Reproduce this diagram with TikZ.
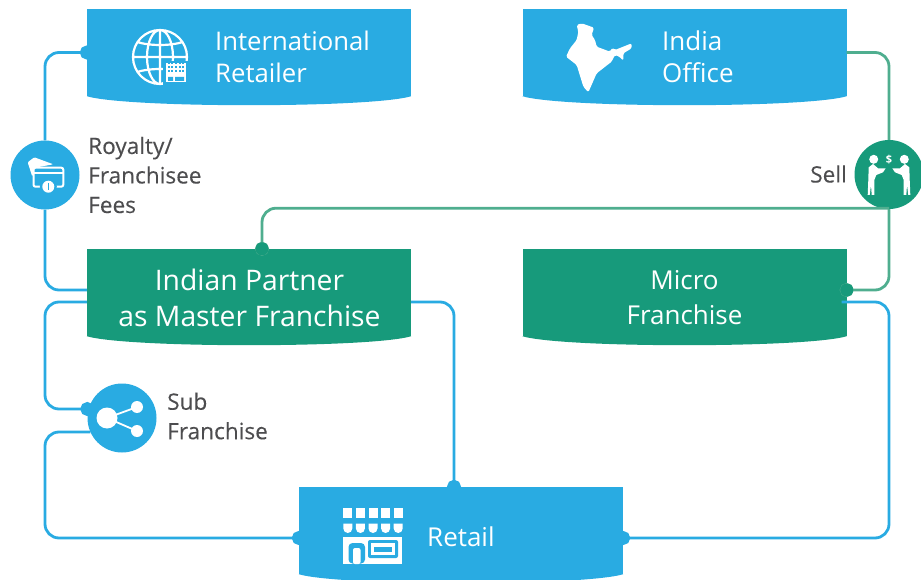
\documentclass[tikz,border=0pt]{standalone}
\usepackage{fontspec}
\setmainfont{Open Sans}
\newfontfamily\sidefont[FakeBold=0.2]{Open Sans}
\usetikzlibrary{arrows.meta}
\definecolor{skyblue}{HTML}{29ABE2}
\definecolor{teal}{HTML}{179A7B}
\definecolor{tealline}{HTML}{4FAE8F}
\definecolor{labelgray}{HTML}{4D4D4F}
\begin{document}
\begin{tikzpicture}[
  x=1pt, y=-1pt,
  box/.style={rectangle, minimum width=324pt, minimum height=87pt, inner sep=0pt},
  disc/.style={circle, minimum size=69pt, inner sep=0pt},
  boxtext/.style={text=white, inner sep=0pt, align=#1},
  boxtext/.default=center,
  sidetext/.style={text=labelgray, inner sep=0pt, align=#1, font=\sidefont\fontsize{22.6}{29.5}\selectfont},
  sidetext/.default=left,
  bluelink/.style={draw=skyblue, line width=2.8pt, rounded corners=14pt, shorten >=-7pt},
  greenlink/.style={draw=tealline, line width=2.8pt, rounded corners=14pt, shorten >=-7pt},
  dot/.style={-{Circle[length=14pt]}}
]
\useasboundingbox (0,0) rectangle (921,580);

\node[box, fill=skyblue] (intl) at (249,52.5) {};
\node[box, fill=skyblue, right of=intl, node distance=435.5pt] (india) {};
\node[box, fill=teal, below of=intl, node distance=240pt] (partner) {};
\node[box, fill=teal, right of=partner, node distance=435.5pt] (micro) {};
\node[box, fill=skyblue, below of=partner, node distance=238pt, xshift=212pt] (retail) {};

\foreach \nm/\col in {intl/skyblue, india/skyblue, partner/teal, micro/teal, retail/skyblue}
  \fill[\col] (\nm.south west) .. controls ([shift={(40pt,-12pt)}]\nm.south west) and ([shift={(-40pt,-12pt)}]\nm.south east) .. (\nm.south east) -- cycle;

\node[disc, fill=skyblue, below of=intl, node distance=122.5pt, xshift=-204pt] (royalty) {};
\node[disc, fill=teal, below of=india, node distance=122pt, xshift=204.5pt] (sell) {};
\node[disc, fill=skyblue, below of=partner, node distance=125.5pt, xshift=-127pt] (sub) {};

\coordinate (partnerA) at ([yshift=2.5pt]partner.west);
\coordinate (partnerB) at ([yshift=-9.5pt]partner.west);
\coordinate (partnerC) at ([yshift=-9.5pt]partner.east);
\coordinate (partnerTop) at ([xshift=13pt]partner.north);
\coordinate (microA) at ([yshift=2.5pt]micro.east);
\coordinate (microB) at ([xshift=-5pt,yshift=-9.5pt]micro.east);
\coordinate (subA) at ([yshift=9pt]sub.west);
\coordinate (subB) at ([xshift=3pt,yshift=-14pt]sub.west);
\coordinate (retailW) at ([yshift=-7.5pt]retail.west);
\coordinate (retailE) at ([yshift=-7.5pt]retail.east);
\coordinate (retailTop) at ([xshift=-7pt]retail.north);
\coordinate (sellFoot) at ([yshift=1pt]sell.south);

\draw[bluelink, shorten >=0pt, {Circle[length=14pt]}-, shorten <=-7pt] (intl.west) -| (royalty.north);
\draw[bluelink, shorten >=0pt] (royalty.south) |- (partnerA);
\draw[bluelink, dot] (partnerB) -| (royalty.south |- subA) -- (subA);
\draw[bluelink, dot] (subB) -| (royalty.south |- retailW) -- (retailW);
\draw[bluelink, dot] (partnerC) -| (retailTop);
\draw[bluelink, dot] (microB) -| (sell.south |- retailE) -- (retailE);
\draw[greenlink, shorten >=0pt] (india.east) -| (sell.north);
\draw[greenlink, dot] (sell.south) |- (microA);
\draw[greenlink, dot] (sellFoot) -| (partnerTop);

% dots sit on the box edge in the box colour
\fill[teal] (microA) circle (6.5pt) (partnerTop) circle (6.5pt);

\node[boxtext=left, anchor=west, font=\fontsize{25.7}{32}\selectfont] (intlText) at (215,57) {International\\Retailer};
\node[boxtext=left, anchor=west, font=\fontsize{26}{32}\selectfont] (indiaText) at (662,57) {India\\Office};
\node[boxtext, font=\fontsize{28.3}{36.5}\selectfont] (partnerText) at (249.5,298) {Indian Partner\\as Master Franchise};
\node[boxtext, font=\fontsize{26}{35}\selectfont] (microText) at (684.5,298) {Micro\\Franchise};
\node[boxtext, anchor=west, font=\fontsize{26}{32}\selectfont] (retailText) at (427,537) {Retail};
\node[sidetext, anchor=west] (royaltyText) at (88,175) {Royalty/\\Franchisee\\Fees};
\node[sidetext, anchor=east] (sellText) at (847,174) {Sell};
\node[sidetext, anchor=west] (subText) at (167,416) {Sub\\Franchise};

% globe
\draw[white, line width=2.2pt] (160,57) circle (27pt) (160,57) ellipse (13pt and 27pt) (160,30) -- (160,84) (133,57) -- (187,57)
  (137,42) .. controls (150,46) and (170,46) .. (183,42) (137,72) .. controls (150,68) and (170,68) .. (183,72);
\fill[skyblue] (163,61) rectangle (190,86);
\fill[white] (166,63) rectangle (186,82);
\foreach \i in {0,...,4} \foreach \j in {0,1,2}
  \fill[skyblue] (167.5+3.7*\i,64.5+3.7*\j) rectangle ++(2pt,2pt);
\fill[skyblue] (168,77) rectangle (173,81) (175,77) rectangle (184,81);

% india
\begin{scope}[shift={(560,15)}, x=0.3333pt, y=-0.3333pt]
\fill[white, rounded corners=1.5pt] (50,30) -- (65,25) -- (102,38) -- (95,60) -- (105,75) -- (110,95) -- (150,110) -- (157,98) -- (165,105) -- (215,85) -- (215,100) -- (190,115) -- (190,137) -- (178,125) -- (165,120) -- (155,140)
  -- (110,175) -- (85,232) -- (70,215) -- (50,150) -- (18,125) -- (30,100) -- (50,75) -- (55,50) -- cycle;
\end{scope}

% cards
\fill[white, rounded corners=1pt] (27.7,162.3) -- (34.3,157.3) -- (53.3,164.3) -- (35,167.7) -- (32.3,176.7) -- cycle;
\draw[white, fill=skyblue, line width=2pt, rounded corners=2pt] (33.5,167.7) rectangle (63.3,186.7);
\draw[white, line width=2pt] (33.5,173.5) -- (63.3,173.5);
\fill[skyblue] (48.3,186.7) circle (8.5pt);
\fill[white] (48.3,186.7) circle (6pt);
\fill[skyblue] (47.6,183.5) rectangle (49,190);

% dealers
\foreach \sx in {1,-1} {
\begin{scope}[shift={(889,0)}, xscale=\sx]
\fill[white] (-15.3,159.3) circle (4.5pt);
\fill[white] (-20.3,167.3) -- (-16,164) -- (-11,168.3) -- (-3.3,168.3) -- (-6,172.3) -- (-12.7,175) -- (-14.7,180) -- (-14.7,195) -- (-17.3,195) -- (-18,185) -- (-19.3,195) -- (-21.3,195) -- (-20.7,180) -- cycle;
\end{scope}
}
\node[text=white, inner sep=0pt, font=\fontsize{11}{11}\selectfont\bfseries] (dollar) at (889,160) {\$};

% share
\draw[white, line width=1.8pt] (137,407) -- (107,418) -- (137,431);
\fill[white] (107,418) circle (10.5pt) (137,407) circle (6pt) (137,431) circle (6pt);

% store
\foreach \i in {0,...,4} {
  \fill[white] (343.3+12.6*\i,508.3) rectangle ++(9pt,-10pt);
  \fill[white] (343.3+12.6*\i,523.5) -- ++(9,0) -- ++(0,5) arc[start angle=0, end angle=-180, radius=4.5pt] -- cycle;
}
\fill[white] (343.3,536.5) rectangle (402,563.5);
\fill[skyblue, rounded corners=4pt] (348.5,563.5) -- (348.5,543) -- (365,543) -- (365,563.5) -- cycle;
\fill[white, rounded corners=2pt] (353,564) -- (353,548) -- (360.5,548) -- (360.5,564) -- cycle;
\fill[skyblue, rounded corners=2pt] (368,540) rectangle (398,558);
\fill[white] (371,543) rectangle (395,555);
\fill[skyblue] (374,547) rectangle (392,552);
\end{tikzpicture}
\end{document}
